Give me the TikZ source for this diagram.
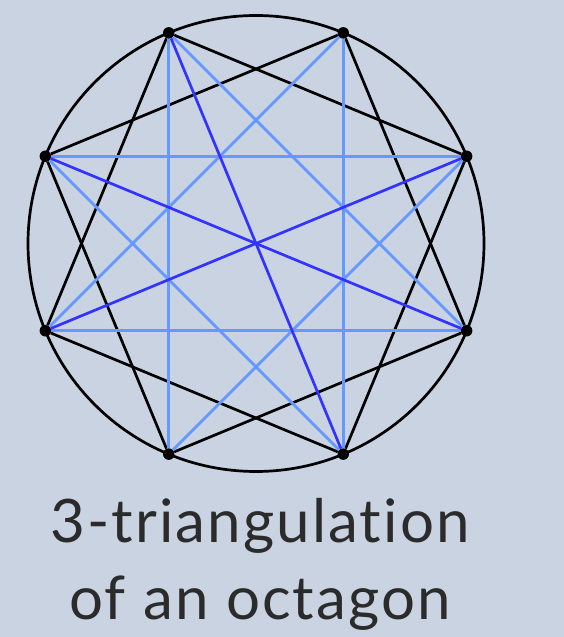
\documentclass[tikz,border=0pt]{standalone}
\usepackage{fontspec}
\setmainfont[Ligatures=NoCommon, LetterSpace=3.5]{Lato}
\usepackage{xcolor}
\usetikzlibrary{positioning}
\definecolor{bgcol}{HTML}{CAD3E1}
\definecolor{lightedge}{HTML}{6699FF}
\definecolor{darkedge}{HTML}{3333FF}
\definecolor{textcol}{HTML}{2B2B2B}

\begin{document}
\begin{tikzpicture}[x=1pt, y=1pt,
  vertex/.style={circle, fill=black, inner sep=0pt, minimum size=11.5pt},
  shortedge/.style={black, line width=2.7pt},
  longedge/.style={lightedge, line width=2.7pt},
  diamedge/.style={darkedge, line width=2.7pt},
  title/.style={text=textcol, inner sep=0pt, font=\fontsize{60}{72}\selectfont}]
  \fill[bgcol] (0,0) rectangle (564,637);
  \useasboundingbox (0,0) rectangle (564,637);
  \coordinate (o) at (256,393.5);
  \draw[line width=2.7pt] (o) circle (228);
  % octagon corners
  \foreach \i in {0,...,7}
    \node[vertex] (v\i) at ([shift={(22.5+45*\i:228)}]o) {};
  % chords of length 2 and 3
  \foreach \i in {0,...,7} {
    \pgfmathtruncatemacro{\j}{mod(\i+2,8)}
    \draw[shortedge] (v\i) -- (v\j);
  }
  \foreach \i in {0,...,7} {
    \pgfmathtruncatemacro{\j}{mod(\i+3,8)}
    \draw[longedge] (v\i) -- (v\j);
  }
  % three of the diameters
  \draw[diamedge] (v2) -- (v6);
  \draw[diamedge] (v3) -- (v7);
  \draw[diamedge] (v4) -- (v0);
  \node[title, anchor=base] (title1) at (260,94) {3-triangulation};
  \node[title, anchor=base] (title2) at ([yshift=-77pt]title1.base) {of an octagon};
\end{tikzpicture}
\end{document}
